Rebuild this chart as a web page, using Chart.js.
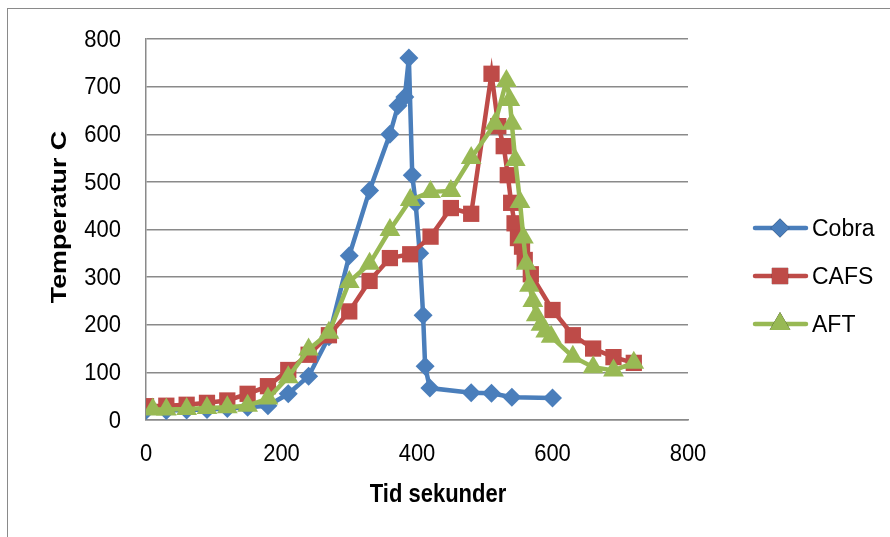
<!DOCTYPE html>
<html>
<head>
<meta charset="utf-8">
<script src="https://cdn.jsdelivr.net/npm/chart.js@4.4.0/dist/chart.umd.min.js"></script>
<style>
  body { margin: 0; background: #fff; }
  #wrap { position: relative; width: 890px; height: 537px; overflow: hidden; }
  #frame { position: absolute; left: 7px; top: 8px; width: 1000px; height: 700px; border: 1px solid #8a8a8a; }
  #chart { position: absolute; left: 0; top: 0; }
</style>
</head>
<body>
<div id="wrap">
  <div id="frame"></div>
  <canvas id="chart" width="890" height="537"></canvas>
</div>
<script>
const timeCobra = [0, 30, 60, 90, 120, 150, 180, 210, 240, 270, 300, 330, 360, 372, 382, 388, 393, 398, 404, 409, 412, 419, 480, 510, 540, 600];
const tempCobra = [20, 20, 21, 22, 24, 27, 30, 55, 92, 175, 345, 482, 600, 660, 678, 760, 514, 455, 350, 220, 113, 67, 57, 56, 48, 46];

const timeCafs = [0, 30, 60, 90, 120, 150, 180, 210, 240, 270, 300, 330, 360, 390, 420, 450, 480, 510, 520, 528, 534, 539, 544, 549, 555, 559, 568, 600, 630, 660, 690, 720];
const tempCafs = [29, 30, 32, 36, 41, 55, 71, 105, 137, 178, 228, 292, 340, 348, 385, 445, 433, 727, 617, 575, 514, 456, 413, 382, 364, 336, 306, 231, 178, 150, 132, 120];

const timeAft = [10, 30, 60, 90, 120, 150, 180, 210, 240, 270, 300, 330, 360, 390, 420, 450, 480, 515, 532, 537, 540, 545, 552, 557, 561, 566, 571, 576, 583, 590, 598, 630, 660, 690, 720];
const tempAft = [22, 22, 23, 25, 27, 30, 45, 90, 148, 183, 290, 328, 399, 462, 479, 481, 550, 622, 712, 672, 622, 546, 458, 383, 328, 282, 250, 220, 200, 186, 175, 133, 111, 104, 120];

const xTicks = [0, 200, 400, 600, 800];
const yTicks = [0, 100, 200, 300, 400, 500, 600, 700, 800];

const xTitle = "Tid sekunder";
const yTitle = "Temperatur C";

function toPoints(xs, ys) {
  return xs.map((x, i) => ({ x: x, y: ys[i] }));
}

const fontName = "'Liberation Sans', Arial, sans-serif";

// the reference text is a bit tall for its width, so it is drawn stretched
function stretchText(ctx, text, x, y, font, align, sx, sy, rot) {
  ctx.save();
  ctx.translate(x, y);
  if (rot) ctx.rotate(rot);
  ctx.scale(sx, sy);
  ctx.font = font;
  ctx.fillStyle = "#000";
  ctx.textAlign = align;
  ctx.textBaseline = "middle";
  ctx.fillText(text, 0, 0);
  ctx.restore();
}

const textLayer = {
  id: "textLayer",
  afterDraw(chart) {
    const ctx = chart.ctx;
    const xs = chart.scales.x;
    const ys = chart.scales.y;
    const tickFont = "22px " + fontName;

    xTicks.forEach(v => {
      stretchText(ctx, String(v), xs.getPixelForValue(v), 454, tickFont, "center", 1, 1.1);
    });
    yTicks.forEach(v => {
      stretchText(ctx, String(v), 121, ys.getPixelForValue(v) + 1, tickFont, "right", 1, 1.1);
    });

    stretchText(ctx, xTitle, 438, 495, "bold 22px " + fontName, "center", 1, 1.15);
    stretchText(ctx, yTitle, 60, 217, "bold 22px " + fontName, "center", 1.22, 1, -Math.PI / 2);

    // legend: line with the marker in the middle, like Excel
    chart.data.datasets.forEach((ds, i) => {
      const y = 228 + i * 48;
      ctx.save();
      ctx.strokeStyle = ds.borderColor;
      ctx.lineWidth = ds.borderWidth;
      ctx.lineCap = "round";
      ctx.beginPath();
      ctx.moveTo(755, y);
      ctx.lineTo(806, y);
      ctx.stroke();
      Chart.helpers.drawPoint(ctx, {
        pointStyle: ds.pointStyle,
        radius: ds.pointRadius,
        borderWidth: 0,
        rotation: 0
      }, 780, y);
      ctx.fillStyle = ds.backgroundColor;
      ctx.fill();
      ctx.restore();
      stretchText(ctx, ds.label, 812, y + 1, "23px " + fontName, "left", 1, 1.08);
    });
  }
};

function series(label, xs, ys, color, style, r, order) {
  return {
    label: label,
    data: toPoints(xs, ys),
    borderColor: color,
    backgroundColor: color,
    borderWidth: 4.5,
    pointStyle: style,
    pointRadius: r,
    pointHoverRadius: r,
    pointBorderWidth: 0,
    tension: 0,
    order: order
  };
}

new Chart(document.getElementById("chart"), {
  type: "line",
  data: {
    datasets: [
      series("Cobra", timeCobra, tempCobra, "#4A7EBB", "rectRot", 9.5, 3),
      series("CAFS", timeCafs, tempCafs, "#BE4B48", "rect", 11.5, 2),
      series("AFT", timeAft, tempAft, "#98B954", "triangle", 12, 1)
    ]
  },
  options: {
    responsive: false,
    animation: false,
    layout: { padding: { left: 0, right: 202, top: 39, bottom: 0 } },
    plugins: {
      legend: { display: false },
      tooltip: { enabled: false }
    },
    scales: {
      x: {
        type: "linear",
        min: 0,
        max: 800,
        afterBuildTicks: (axis) => { axis.ticks = xTicks.map(v => ({ value: v })); },
        afterFit: (axis) => { axis.height = 117; },
        grid: { display: false, drawTicks: false },
        border: { display: true, color: "#8a8a8a", width: 1.5 },
        ticks: { display: false }
      },
      y: {
        min: 0,
        max: 800,
        afterBuildTicks: (axis) => { axis.ticks = yTicks.map(v => ({ value: v })); },
        afterFit: (axis) => { axis.width = 146; },
        grid: { color: "#8a8a8a", lineWidth: 1.5, drawTicks: false },
        border: { display: true, color: "#8a8a8a", width: 1.5 },
        ticks: { display: false }
      }
    }
  },
  plugins: [textLayer]
});
</script>
</body>
</html>
